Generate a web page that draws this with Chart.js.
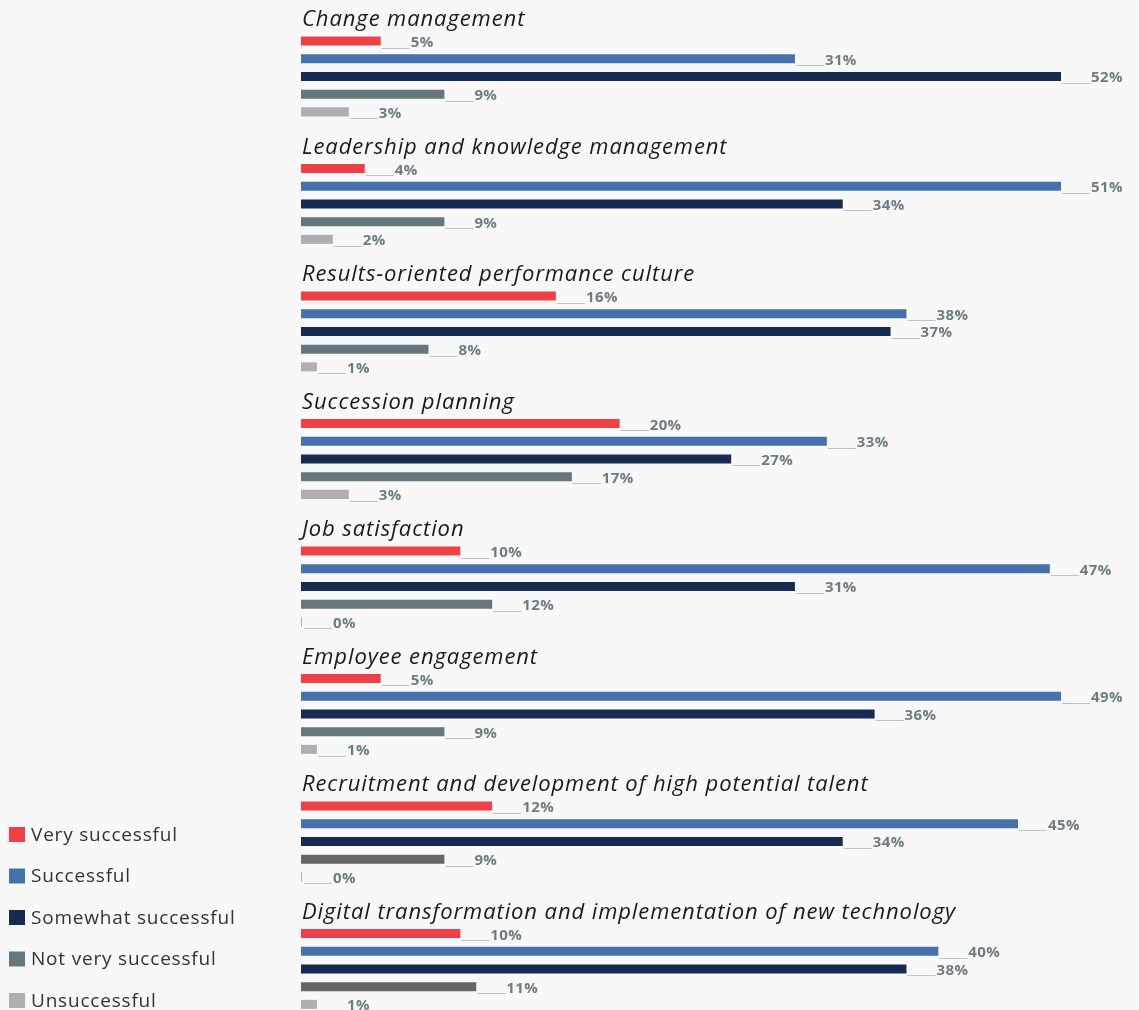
<!DOCTYPE html>
<html>
<head>
<meta charset="utf-8">
<script src="https://cdn.jsdelivr.net/npm/chart.js@4.4.1/dist/chart.umd.min.js"></script>
<style>
  html, body { margin:0; padding:0; background:#f8f8f8; overflow:hidden; width:1139px; height:1010px; }
  #wrap { position:absolute; left:0; top:-5px; width:1139px; height:1020px; }
</style>
</head>
<body>
<div id="wrap"><canvas id="chart"></canvas></div>
<script>
// survey groups (top to bottom)
const categories = [
  'Change management',
  'Leadership and knowledge management',
  'Results-oriented performance culture',
  'Succession planning',
  'Job satisfaction',
  'Employee engagement',
  'Recruitment and development of high potential talent',
  'Digital transformation and implementation of new technology'
];
const seriesNames = ['Very successful', 'Successful', 'Somewhat successful', 'Not very successful', 'Unsuccessful'];

// % of respondents
const verySuccessful = [5, 4, 16, 20, 10, 5, 12, 10];
const successful     = [31, 51, 38, 33, 47, 49, 45, 40];
const somewhat       = [52, 34, 37, 27, 31, 36, 34, 38];
const notVery        = [9, 9, 8, 17, 12, 9, 9, 11];
const unsuccessful   = [3, 2, 1, 3, 0, 1, 0, 1];

const colors = ['#ef4048', '#4572ab', '#172a4f', '#65777c', '#afafb3'];
// last two groups use a plain grey for "not very"
const notVeryColors = categories.map((_, i) => i >= 6 ? '#666666' : colors[3]);

const FONT = '"Open Sans", sans-serif';
const LABEL_COLOR = '#6b7d83';

// two empty slots per group leave room for the group title
const spacer = () => ({ label: '', data: categories.map(() => null), backgroundColor: 'transparent' });

const series = [verySuccessful, successful, somewhat, notVery, unsuccessful];
const datasets = [spacer(), spacer()].concat(series.map((vals, k) => ({
  label: seriesNames[k],
  data: vals,
  backgroundColor: k === 3 ? notVeryColors : colors[k],
  minBarLength: k === 4 ? 1 : 0
})));

const valueLabels = {
  id: 'valueLabels',
  afterDatasetsDraw(chart) {
    const {ctx, chartArea} = chart;
    ctx.save();
    // group titles above the first real bar
    const first = chart.getDatasetMeta(2);
    ctx.font = 'italic 22px ' + FONT;
    ctx.letterSpacing = '0.9px';
    ctx.fillStyle = '#1a1a1a';
    ctx.textBaseline = 'alphabetic';
    first.data.forEach((bar, i) => {
      ctx.fillText(categories[i], chartArea.left + 1, bar.y - bar.height / 2 - 10.5);
    });
    // "___12%" leaders
    ctx.font = 'bold 15px ' + FONT;
    ctx.letterSpacing = '0.4px';
    for (let d = 2; d < chart.data.datasets.length; d++) {
      const meta = chart.getDatasetMeta(d);
      meta.data.forEach((bar, i) => {
        const v = chart.data.datasets[d].data[i];
        const xEnd = Math.min(bar.x, chartArea.right) + (v === 0 ? 1 : 0);
        const bottom = bar.y + bar.height / 2;
        ctx.strokeStyle = '#bcc3c6';
        ctx.lineWidth = 1;
        ctx.beginPath();
        ctx.moveTo(xEnd + 1, Math.round(bottom + 2) + 0.5);
        ctx.lineTo(xEnd + 29, Math.round(bottom + 2) + 0.5);
        ctx.stroke();
        ctx.fillStyle = LABEL_COLOR;
        ctx.fillText(v + '%', xEnd + 30, bottom + 1.5);
      });
    }
    ctx.restore();
  }
};

const sideLegend = {
  id: 'sideLegend',
  afterDraw(chart) {
    const {ctx} = chart;
    ctx.save();
    ctx.font = '19px ' + FONT;
    ctx.letterSpacing = '0.8px';
    ctx.textBaseline = 'middle';
    seriesNames.forEach((name, k) => {
      const cy = 839.5 + k * 41.5;
      ctx.fillStyle = colors[k];
      ctx.fillRect(9, cy - 7.5, 16, 15);
      ctx.fillStyle = '#333333';
      ctx.fillText(name, 31, cy + 1);
    });
    ctx.restore();
  }
};

new Chart(document.getElementById('chart'), {
  type: 'bar',
  data: { labels: categories, datasets },
  options: {
    indexAxis: 'y',
    responsive: true,
    maintainAspectRatio: false,
    animation: false,
    categoryPercentage: 0.972,
    barPercentage: 0.51,
    layout: { padding: { left: 301, right: 78, top: 0, bottom: 0 } },
    scales: {
      x: { display: false, min: 0, max: 47.7 },
      y: { display: false }
    },
    plugins: {
      legend: { display: false },
      tooltip: { enabled: false }
    }
  },
  plugins: [valueLabels, sideLegend]
});
</script>
</body>
</html>
